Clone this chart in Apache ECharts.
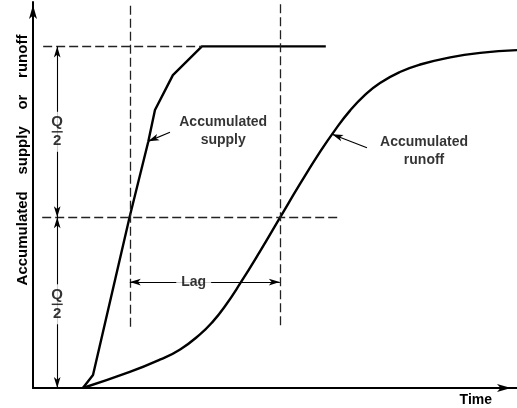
<!DOCTYPE html>
<html>
<head>
<meta charset="utf-8">
<script src="https://cdn.jsdelivr.net/npm/echarts@6/dist/echarts.min.js"></script>
<style>
  html, body { margin: 0; padding: 0; background: #fff; }
  #chart { width: 517px; height: 408px; }
</style>
</head>
<body>
<div id="chart"></div>
<script>
// accumulated supply vs accumulated runoff (time 0-100, Q = 100)
var supplyTime = [10.3, 12.4, 20.0, 23.8, 25.2, 28.9, 34.9, 60.5];
var supplyValue = [0, 3.8, 50.3, 72.0, 81.4, 91.6, 100, 100];
var runoffTime = [10.3, 20.0, 26.2, 30.4, 34.5, 37.2, 39.7, 42.8, 46.9, 51.0, 55.2, 59.3, 62.4, 65.5, 68.6, 71.7, 75.8, 80.0, 86.2, 92.4, 100];
var runoffValue = [0, 4.7, 8.3, 11.3, 15.7, 19.5, 24.0, 30.6, 40.0, 49.8, 59.8, 69.1, 75.5, 81.2, 85.8, 89.3, 92.5, 94.7, 96.8, 98.1, 98.9];

var fullQ = 100;
var halfQ = 50;
var supplyHalfTime = 20.0;   // supply reaches Q/2
var runoffHalfTime = 51.0;   // runoff reaches Q/2
var lagLevel = 31;
var qArrowTime = 5;

var ink = '#000';
var font = 'Liberation Sans';

function zip(a, b) {
  return a.map(function (v, i) { return [v, b[i]]; });
}

var dashed = { color: '#222', width: 1.3, type: [9, 4] };
var thin = { color: ink, width: 1.1, type: 'solid' };

function seg(p1, p2, style, s1, s2) {
  return [
    { coord: p1, symbol: s1 || 'none', lineStyle: style },
    { coord: p2, symbol: s2 || 'none', lineStyle: style }
  ];
}

var guideLines = [
  seg([2.1, fullQ], [34.9, fullQ], dashed),
  seg([1.9, halfQ], [63.0, halfQ], dashed),
  seg([supplyHalfTime, 17.9], [supplyHalfTime, 113], dashed),
  seg([runoffHalfTime, 18.4], [runoffHalfTime, 113], dashed),
  seg([qArrowTime, fullQ], [qArrowTime, halfQ], thin, 'arrow', 'arrow'),
  seg([qArrowTime, halfQ], [qArrowTime, 0], thin, 'arrow', 'arrow'),
  seg([supplyHalfTime, lagLevel], [runoffHalfTime, lagLevel], thin, 'arrow', 'arrow'),
  seg([28.3, 74.9], [23.8, 72.2], thin, 'none', 'arrow'),
  seg([69.0, 70.3], [61.8, 74.3], thin, 'none', 'arrow')
];

var fraction = { formatter: '{q|Q}\n{bar| }\n{q|2}', backgroundColor: '#fff', padding: [3, 1] };

var labelData = [
  { name: 'Accumulated\nsupply', value: [39.3, 75.2] },
  { name: 'Accumulated\nrunoff', value: [80.8, 69.4] },
  { name: 'Lag', value: [33.2, lagLevel], label: { backgroundColor: '#fff', padding: [0, 5] } },
  { name: 'Q', value: [qArrowTime, 75], label: fraction },
  { name: 'Q', value: [qArrowTime, 24.5], label: fraction }
];

var chart = echarts.init(document.getElementById('chart'));
chart.setOption({
  animation: false,
  grid: { left: 33, right: 0, top: 2, bottom: 20 },
  xAxis: {
    type: 'value', min: 0, max: 100,
    name: 'Time', nameLocation: 'end', nameGap: -25,
    nameTextStyle: { fontFamily: font, fontWeight: 'bold', fontSize: 14, color: ink, align: 'right', verticalAlign: 'top', padding: [5, 0, 0, 0] },
    axisLine: { show: true, lineStyle: { color: ink, width: 2 }, symbol: ['none', 'arrow'], symbolSize: [6, 14], symbolOffset: [0, -6] },
    axisTick: { show: false }, axisLabel: { show: false }, splitLine: { show: false }
  },
  yAxis: {
    type: 'value', min: 0, max: 113,
    name: 'Accumulated    supply    or    runoff', nameLocation: 'middle', nameGap: 3,
    nameTextStyle: { fontFamily: font, fontWeight: 'bold', fontSize: 15, color: ink, padding: [0, 0, 0, 70] },
    axisLine: { show: true, lineStyle: { color: ink, width: 2 }, symbol: ['none', 'arrow'], symbolSize: [6, 14], symbolOffset: [0, -3] },
    axisTick: { show: false }, axisLabel: { show: false }, splitLine: { show: false }
  },
  series: [
    {
      name: 'Accumulated supply', type: 'line', data: zip(supplyTime, supplyValue),
      showSymbol: false, silent: true, z: 3,
      lineStyle: { color: ink, width: 2.4 }
    },
    {
      name: 'Accumulated runoff', type: 'line', data: zip(runoffTime, runoffValue),
      showSymbol: false, silent: true, smooth: 0.5, z: 3,
      lineStyle: { color: ink, width: 2.4 }
    },
    {
      name: 'guides', type: 'line', data: [], silent: true, z: 2,
      markLine: {
        silent: true, animation: false, symbolSize: [5, 11],
        label: { show: false }, emphasis: { disabled: true },
        data: guideLines
      }
    },
    {
      name: 'labels', type: 'scatter', data: labelData, silent: true, z: 5,
      symbolSize: 1, itemStyle: { color: 'transparent' },
      label: {
        show: true, position: 'inside', formatter: '{b}', lineHeight: 18,
        fontFamily: font, fontWeight: 'bold', fontSize: 14, color: ink, textBorderWidth: 0,
        rich: {
          q: { fontFamily: font, fontWeight: 'bold', fontSize: 15, color: ink, lineHeight: 15 },
          bar: { width: 11, height: 1.5, lineHeight: 4, backgroundColor: ink, fontSize: 1 }
        }
      }
    }
  ]
});
</script>
</body>
</html>
